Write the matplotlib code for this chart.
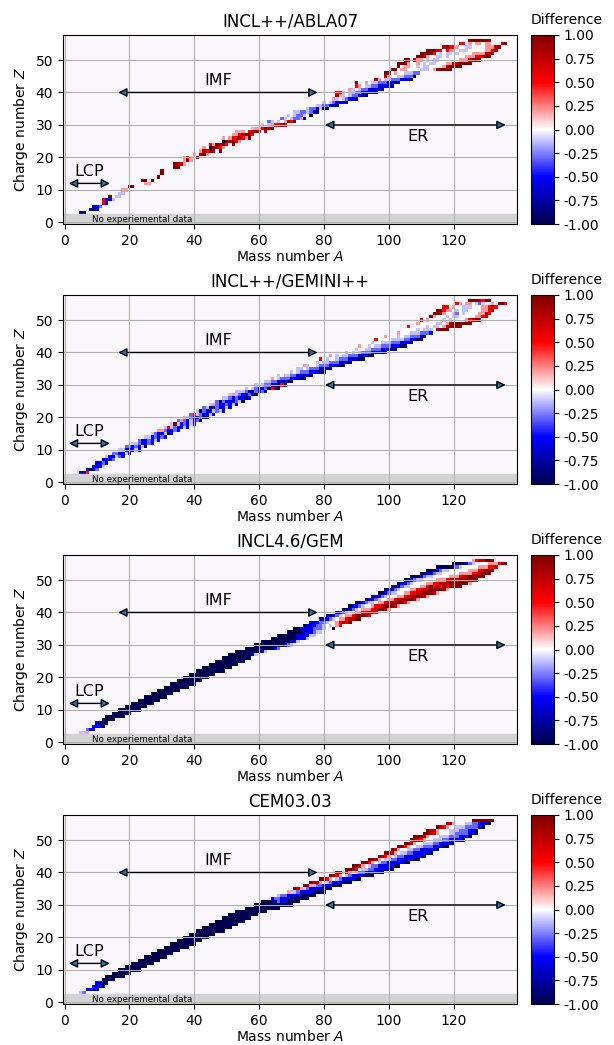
import matplotlib
matplotlib.use("Agg")
import matplotlib.pyplot as plt
import numpy as np

# model names, one panel each
MODELS = ["INCL++/ABLA07", "INCL++/GEMINI++", "INCL4.6/GEM", "CEM03.03"]

# nuclide rows: charge Z and the first mass number A drawn in that row
Z_ROWS = list(range(3, 57))
A_FIRST = [5, 7, 9, 10, 12, 13, 15, 17, 19, 21, 23, 25, 27, 29, 31, 33, 35, 37,
           39, 41, 43, 45, 47, 49, 51, 53, 56, 59, 61, 64, 66, 69, 71, 74, 76, 79,
           81, 84, 86, 88, 90, 93, 95, 97, 99, 101, 103, 105, 107, 109, 112, 115,
           118, 124]

# difference levels read off the colour of each cell ('.' = no cell)
LEVELS = {'N': -1.0, 'B': -0.55, 'b': -0.3, 'l': -0.12, '0': 0.0,
          'p': 0.2, 'r': 0.5, 'R': 0.75, 'D': 1.0}

ROWS_ABLA = [
    "NN.", ".BNB", "BBb.", "..rB", "rBBl", ".D.ll.", "..ll..", ".pp0...",
    ".DD....", "....pp.", ".DD.D..", "....D..", "...D...", ".D.....",
    "...DD...", ".DRRp...", "..pDp...", "prp0D...", ".p.RDp..", ".pRrDR.D.",
    "p.NDRrp..", "rpDRDr.D.", "..NDRDrp.", "p0prRDrpD", ".pprRDDr.",
    "plp0rRDR.R", "..lpprDRD..", "..l0lprrRR.", "..bl0l0pRrD.",
    "...bl0lbbpN.", "...l0lbbl0N.", "..llbblbBN..", "...0lbbBlNN..",
    "....llbbBBN..", "....l0lbBBBN..", "....pl0lbBBN..", "...Rpl0lbbBBN...",
    "rRl0llbbBBBBN....", "..pl0lbbBBBBN.....", "..rp0llbbBBBBN.....",
    "D..p0llbbbBBNB......", "...Rp0llbbbBBBN.....", "....Rp00llbbbN......",
    "..DD.p00lllbb0.......", "..DD.pp0000lll0pRDDDD", "..D.pp00l0ll0000pRDDDD",
    "DDDp.0p0l0ll000ppRRDDDD", "DD.Rpp0l0ll000000pppRDDD",
    "..DDRp00ll0l00000ppprrRDD", ".DDDDr0l0ll0l0000ppppRRD.",
    "DDDRr.rpp0lll00000pprR.", "..RDrrp00ll0000pppRD.", "....rr.p0pp0pp0..RD",
    ".DDDDDDD.",
]

ROWS_GEMINI = [
    "BNr", "BNBb", "BBBl", "BBbB", "BBBb", "lBBlbB", "bbBBlB", "llBBBlB",
    "bbBbBlN", "llbBBbB", "bBBbBlB", "llBbBbB", "lbBBlNB", "ppbBBbB",
    "lrlbBBlB", "lDlBbBlB", "bpbBlBbN", "llbBBbNB", "brlbBBlB", "lNbBBlblB",
    "blNBbBBlB", "lpbBBbBlB", "bNbBBBblN", "llbBbBBNB", "lplbBBbBN",
    "lllbBNbBbB", "l0lbBBbNrDN", "l0lbbBBNrN.", "0llbbBBBNN..",
    "p0lbbbBBBNN.", "l0llbbBBBBN.", "0l0lbbbBBBNN", "0ll0lbbbBBBN.",
    "pl00lbbbBBBNN", ".0l0llbbbBBBN.", "r0l00lbbbBBBNN", ".p0l0llbbbBBBNN.",
    "..0l0l0lbbbBBBNN.", "...0l00llbbbBBBNN.", "...p00l0llbbbBBBNN.",
    "....0l00lllbbbBBBN..", "...r0000llllbbBBNN..", "....p000l0llbbbBN...",
    ".....0p000lllbbbB....", "......0000l0lll0RDDD.", ".....r.0000l0ll0pRDDDD",
    "......p00000ll0pRDDDDDD", ".....r.p0000l0l0000prRDD",
    "......Dp000l0ll00000pprR.", ".....DDRp00lb0l0000ppRr..",
    "...DDrpp0l0ll0000pprR..", "..rr.p00lll000pprRr..", "...rp0pp0lbl00p.DDr",
    ".DDDDrDD.",
]

ROWS_GEM = [
    "llp", "bBB.", "BBBN", "BNNN", "NNNN", "NNNNNN", "NNNNNN", "NNNNNNN",
    "NNNNNNN", "NNNNNNN", "NNNNNNN", "NNNNNNN", "NNNNNNN", "NNNNNNN",
    "NNNNNNNN", "NNNNNNNN", "NNNNNNNN", "NNNNNNNN", "NNNNNNNN", "NNNNNNNNN",
    "NNNNNNNNN", "NNNNNNNNN", "NNNNNNNNN", "NNNNNNNNN", "NNNNNNNBl",
    "NNNNNNNNBl", "NNNNNNNNNBb", "NNNNNNNNNBbl", "NNNNNNNNNBBl",
    "NNNNNNNNBBBl", "NNNNNNBBBBll", "NNNNNBBBbll0", "NNBBBBbbbl00N",
    "NBBBbbl0l0pr.", "BBBbbl00prRRD.", "NBBbl0pprRRDD.", "BNBbl0pprRDDRr..",
    "NBbl00pprRDRr....", "NNBbl0ppprRDDRp...", "NBBbl00prrRDDDRp...",
    "NNBbll0pprRRDDDrp...", "NBBbl00pprRRDDDRp...", "NBBbl000pprRRDDDRp..",
    "NNBbll00pprrRRDDDRp..", "NBBbl000pprrRRDDDDRp.", "NNBbll000pprDrDrDrDRDD",
    "NBBbl0000pprrRRRDDDDDDp", "NNBbll0000ppprRRRDDDDDD.",
    "NNNBbll00000ppprRRDDDDD..", ".NNBBbll00000pppprrRDDD..",
    "NNNBbll000000ppprRDDD..", "NNNNNNbl00000ppprrR..", "..NNNNBbl0000ppprRD",
    "..prRRDDD",
]

ROWS_CEM = [
    "lb.", "BBBB", "BBBN", "BBNN", "NNNN", "NNNNNN", "NNNNNN", "NNNNNNN",
    "NNNNNNN", "NNNNNNN", "NNNNNNN", "NNNNNNN", "NNNNNNN", "NNNNNNN",
    "NNNNNNNN", "NNNNNNNN", "NNNNNNNN", "NNNNNNNN", "NNNNNNNN", "NNNNNNNNN",
    "NNNNNNNNN", "NNNNNNNNN", "NNNNNNNNN", "NNNNNNNNN", "NNNNNNNNN",
    "NNNNNNNNNN", "NNNNNNNNNNN", "NNNNNNNNNNNN", "NNNNBbBBNNNN",
    "BbbBBBNNNNNN", "lbbBBBBNNNNN", "pllbBBBBNNNN", "DRplbBBBBNNN.",
    "DDplbbBBBNNN.", "DRRp0lbBBBNNN.", "DDrp0lbBBBBNN.", ".DRrp0lbBBBBNNN.",
    "DD.Rp0lbbBBBBNN..", ".DDRr0llbbBBBBNN..", ".DDRp0lbbBBBBBNN...",
    "..DDrp0lbbBBBBBNN...", ".DDRp0llbbBBBBBNN...", "..DRrp0lbbBBBBBBN...",
    "..DDRp0llbbBBBBBN....", "..DRp00llbbBBBBBN....", "..DDrp00llbbbBBBNN....",
    "..DDRp00lllbbBBBBN.....", "..DDRrp00lllbbBBBBN.....",
    ".DDDRp000lllbbbBBBN......", "..DDRrp000llbbbbBBN......",
    "DRRp000lllbbbBBN.......", "DRrp00lllbbbbBN......", "RRp000llbbBBBN.....",
    "..DDDDDDD",
]

PANEL_ROWS = [ROWS_ABLA, ROWS_GEMINI, ROWS_GEM, ROWS_CEM]


def build_grid(rows):
    grid = np.full((58, 140), np.nan)
    for z, a0, codes in zip(Z_ROWS, A_FIRST, rows):
        for i, c in enumerate(codes):
            if c in LEVELS and a0 + i < 140:
                grid[z, a0 + i] = LEVELS[c]
    return grid


fig = plt.figure(figsize=(6.14, 10.45), dpi=100)
W, H = 614.0, 1045.0

a_edges = np.arange(-0.5, 140.5, 1.0)
z_edges = np.arange(-0.5, 58.5, 1.0)

for k, (name, rows) in enumerate(zip(MODELS, PANEL_ROWS)):
    top = 35 + 260 * k
    bottom = 1 - (top + 189) / H
    ax = fig.add_axes([63 / W, bottom, 454 / W, 189 / H])
    cax = fig.add_axes([531 / W, bottom, 23 / W, 189 / H])

    ax.set_facecolor('#f9f7fb')
    grid = np.ma.masked_invalid(build_grid(rows))
    mesh = ax.pcolormesh(a_edges, z_edges, grid, cmap='seismic', vmin=-1, vmax=1)

    ax.axhspan(-0.5, 2.5, color='lightgray', zorder=1.2)
    ax.text(8.5, 1.0, "No experiemental data", fontsize=6.3, va='center')

    arrow = dict(arrowstyle='<|-|>', fc='#1f77b4', ec='black', lw=1,
                 shrinkA=0, shrinkB=0, mutation_scale=13)
    ax.annotate('', xy=(14, 12), xytext=(1.3, 12), arrowprops=arrow)
    ax.text(7.6, 15.7, "LCP", fontsize=11.5, ha='center', va='center')
    ax.annotate('', xy=(78, 40), xytext=(16.5, 40), arrowprops=arrow)
    ax.text(47.5, 43.6, "IMF", fontsize=11.5, ha='center', va='center')
    ax.annotate('', xy=(136, 30), xytext=(80.3, 30), arrowprops=arrow)
    ax.text(109, 26.5, "ER", fontsize=11.5, ha='center', va='center')

    ax.set_xlim(-0.5, 139.5)
    ax.set_ylim(-0.5, 57.7)
    ax.set_xticks(range(0, 140, 20))
    ax.set_yticks(range(0, 60, 10))
    ax.grid(True)
    ax.set_title(name, fontsize=12)
    ax.set_xlabel("Mass number $A$", labelpad=1)
    ax.set_ylabel("Charge number $Z$")

    cb = fig.colorbar(mesh, cax=cax, ticks=np.linspace(-1, 1, 9), format='%.2f')
    cax.set_title("Difference", fontsize=10, loc='left', pad=8)

fig.savefig("out.png", dpi=100)
